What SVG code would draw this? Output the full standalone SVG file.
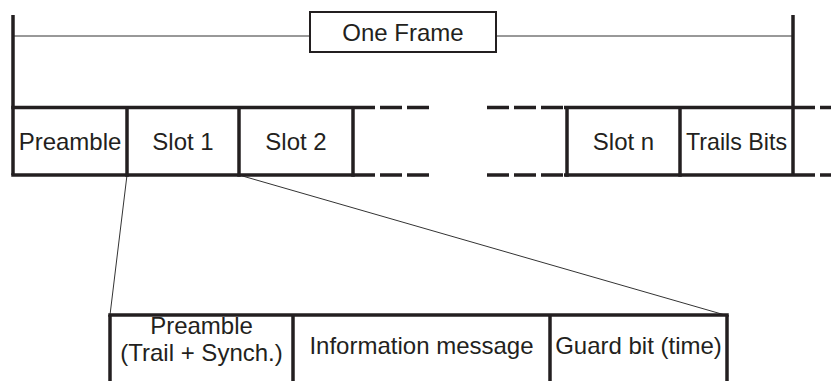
<svg xmlns="http://www.w3.org/2000/svg" width="831" height="381" viewBox="0 0 831 381">
<style>
.thick{stroke:#231f20;stroke-width:3.5;fill:none}
.dash{stroke:#231f20;stroke-width:3.5;fill:none;stroke-dasharray:22 5}
.thin{stroke:#333;stroke-width:1;fill:none}
.box{stroke:#231f20;stroke-width:2;fill:#fff}
text{font-family:"Liberation Sans",Arial,sans-serif;font-size:24px;fill:#231f20;text-anchor:middle}
</style>
<rect width="831" height="381" fill="#fff"/>
<g id="connectors">
<line class="thin" x1="13" y1="36" x2="310" y2="36"/>
<line class="thin" x1="496" y1="36" x2="793" y2="36"/>
<line class="thin" x1="127" y1="175" x2="110" y2="315"/>
<line class="thin" x1="239" y1="175" x2="725" y2="315"/>
</g>
<g id="frame-bounds">
<line class="thick" x1="13" y1="15" x2="13" y2="175"/>
<line class="thick" x1="793" y1="15" x2="793" y2="175"/>
</g>
<g id="one-frame">
<rect class="box" x="310" y="12" width="186" height="40"/>
<text x="403" y="40.5">One Frame</text>
</g>
<g id="frame-row">
<line class="thick" x1="11.25" y1="107.5" x2="353" y2="107.5"/>
<line class="thick" x1="11.25" y1="175" x2="353" y2="175"/>
<line class="dash" x1="353" y1="107.5" x2="430" y2="107.5"/>
<line class="dash" x1="353" y1="175" x2="430" y2="175"/>
<line class="dash" x1="487" y1="107.5" x2="564" y2="107.5"/>
<line class="dash" x1="487" y1="175" x2="564" y2="175"/>
<line class="thick" x1="564" y1="107.5" x2="793" y2="107.5"/>
<line class="thick" x1="564" y1="175" x2="793" y2="175"/>
<line class="dash" x1="793" y1="107.5" x2="840" y2="107.5"/>
<line class="dash" x1="793" y1="175" x2="840" y2="175"/>
</g>
<g id="preamble">
<line class="thick" x1="127" y1="107.5" x2="127" y2="176.75"/>
<text x="70" y="150">Preamble</text>
</g>
<g id="slot1">
<line class="thick" x1="239" y1="107.5" x2="239" y2="176.75"/>
<text x="183" y="150">Slot 1</text>
</g>
<g id="slot2">
<line class="thick" x1="353" y1="107.5" x2="353" y2="176.75"/>
<text x="296" y="150">Slot 2</text>
</g>
<g id="slotn">
<line class="thick" x1="567" y1="107.5" x2="567" y2="176.75"/>
<line class="thick" x1="680" y1="107.5" x2="680" y2="176.75"/>
<text x="623.5" y="150">Slot n</text>
</g>
<g id="trails">
<text x="736.5" y="150" textLength="101" lengthAdjust="spacingAndGlyphs">Trails Bits</text>
</g>
<g id="slot-detail">
<line class="thick" x1="108.25" y1="315" x2="728.75" y2="315"/>
<line class="thick" x1="110" y1="315" x2="110" y2="381"/>
<line class="thick" x1="293" y1="315" x2="293" y2="381"/>
<line class="thick" x1="550" y1="315" x2="550" y2="381"/>
<line class="thick" x1="727" y1="315" x2="727" y2="381"/>
</g>
<g id="detail-preamble">
<text x="201.5" y="334">Preamble</text>
<text x="201.5" y="361">(Trail + Synch.)</text>
</g>
<g id="detail-info">
<text x="421.5" y="354">Information message</text>
</g>
<g id="detail-guard">
<text x="638.5" y="354">Guard bit (time)</text>
</g>
</svg>
